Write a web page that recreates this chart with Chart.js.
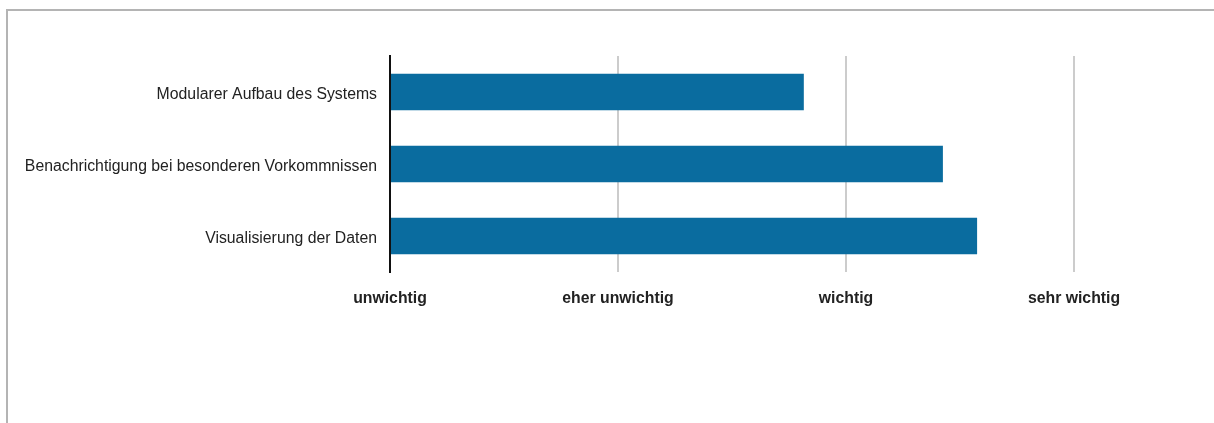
<!DOCTYPE html>
<html>
<head>
<meta charset="utf-8">
<script src="https://cdn.jsdelivr.net/npm/chart.js@4"></script>
<style>
  html, body { margin: 0; padding: 0; background: #ffffff; }
  #wrap { position: relative; width: 1214px; height: 423px; overflow: hidden; }
  #frame { position: absolute; left: 6px; top: 9px; width: 1220px; height: 430px;
           border-top: 2px solid #b4b4b4; border-left: 2px solid #b4b4b4; }
  canvas { position: absolute; left: 0; top: 0; }
</style>
</head>
<body>
<div id="wrap">
  <div id="frame"></div>
  <canvas id="c" width="1214" height="423"></canvas>
</div>
<script>
// Rated importance of system features (1 = unwichtig ... 4 = sehr wichtig)
const categories = [
  'Modularer Aufbau des Systems',
  'Benachrichtigung bei besonderen Vorkommnissen',
  'Visualisierung der Daten'
];
const ratings = [2.815, 3.425, 3.575];
const scaleLabels = ['unwichtig', 'eher unwichtig', 'wichtig', 'sehr wichtig'];

new Chart(document.getElementById('c'), {
  type: 'bar',
  data: {
    labels: categories,
    datasets: [{
      data: ratings,
      base: 1,
      backgroundColor: '#0a6c9f',
      borderWidth: 0,
      categoryPercentage: 1,
      barPercentage: 0.51
    }]
  },
  options: {
    indexAxis: 'y',
    responsive: false,
    animation: false,
    layout: { padding: { left: 0, top: 56, right: 140, bottom: 0 } },
    plugins: { legend: { display: false }, tooltip: { enabled: false } },
    scales: {
      x: {
        min: 1, max: 4,
        afterFit: s => { s.height = 151; },
        ticks: {
          stepSize: 1,
          padding: 17,
          color: '#222222',
          font: { family: 'Liberation Sans, Arial, sans-serif', size: 15.8, weight: 'bold' },
          callback: v => scaleLabels[v - 1] ?? ''
        },
        grid: { color: '#cccccc', lineWidth: 2, drawTicks: false },
        border: { display: false }
      },
      y: {
        afterFit: s => { s.width = 390; },
        ticks: {
          padding: 13,
          labelOffset: 3,
          color: '#222222',
          font: { family: 'Liberation Sans, Arial, sans-serif', size: 15.8 }
        },
        grid: { display: false, drawTicks: false },
        border: { display: true, color: '#111111', width: 2 }
      }
    }
  }
});
</script>
</body>
</html>
